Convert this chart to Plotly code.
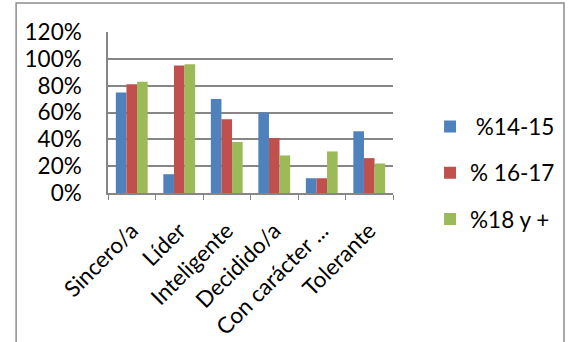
import plotly.graph_objects as go

# Survey categories and share of respondents per age group (%)
categories = ["Sincero/a", "Líder", "Inteligente", "Decidido/a", "Con carácter ...", "Tolerante"]
series_names = [" %14-15", "% 16-17", "%18 y +"]
values_14_15 = [75, 14, 70, 60, 11, 46]
values_16_17 = [81, 95, 55, 41, 11, 26]
values_18_plus = [83, 96, 38, 28, 31, 22]
colors = ["#4F81BD", "#C0504D", "#9BBB59"]
y_ticks = [0, 20, 40, 60, 80, 100, 120]

FONT = "Lato, Carlito, Calibri, sans-serif"
FSIZE = 22.5

fig = go.Figure()
for i, (name, vals) in enumerate(zip(series_names, [values_14_15, values_16_17, values_18_plus])):
    fig.add_trace(go.Bar(
        x=categories, y=vals, name=name,
        marker=dict(color=colors[i], line=dict(width=0)),
        legendgroup=f"g{i}",
    ))

fig.update_layout(
    width=572, height=342,
    margin=dict(l=108, r=160, t=32, b=149),
    paper_bgcolor="white", plot_bgcolor="white",
    barmode="group", bargap=0.33, bargroupgap=0,
    font=dict(family=FONT, size=FSIZE, color="black"),
    showlegend=True,
    legend=dict(
        x=1.13, y=0.545, xanchor="left", yanchor="top",
        font=dict(family=FONT, size=FSIZE, color="black"),
        tracegroupgap=14, traceorder="grouped",
        bgcolor="rgba(0,0,0,0)", itemwidth=30,
    ),
    xaxis=dict(
        type="category", tickangle=-45, automargin=False,
        showline=True, linecolor="#868686", linewidth=1.5,
        ticks="outside", tickson="boundaries", ticklen=5, tickcolor="#868686",
        tickfont=dict(family=FONT, size=FSIZE),
        ticklabelstandoff=14,
        showgrid=False,
    ),
    yaxis=dict(
        range=[0, 120], tickvals=y_ticks, ticktext=[f"{v}%" for v in y_ticks],
        automargin=False,
        showline=True, linecolor="#868686", linewidth=1.5,
        showgrid=True, gridcolor="#868686", gridwidth=1.5,
        ticks="", tickfont=dict(family=FONT, size=FSIZE),
        ticklabelstandoff=20,
        zeroline=False,
    ),
    shapes=[dict(
        type="rect", xref="paper", yref="paper",
        x0=-0.3224, x1=1.6, y0=-1.0, y1=1.18,
        line=dict(color="#8c8c8c", width=1.5), fillcolor="rgba(0,0,0,0)",
        layer="below",
    )],
)

fig.write_html("out.html")
